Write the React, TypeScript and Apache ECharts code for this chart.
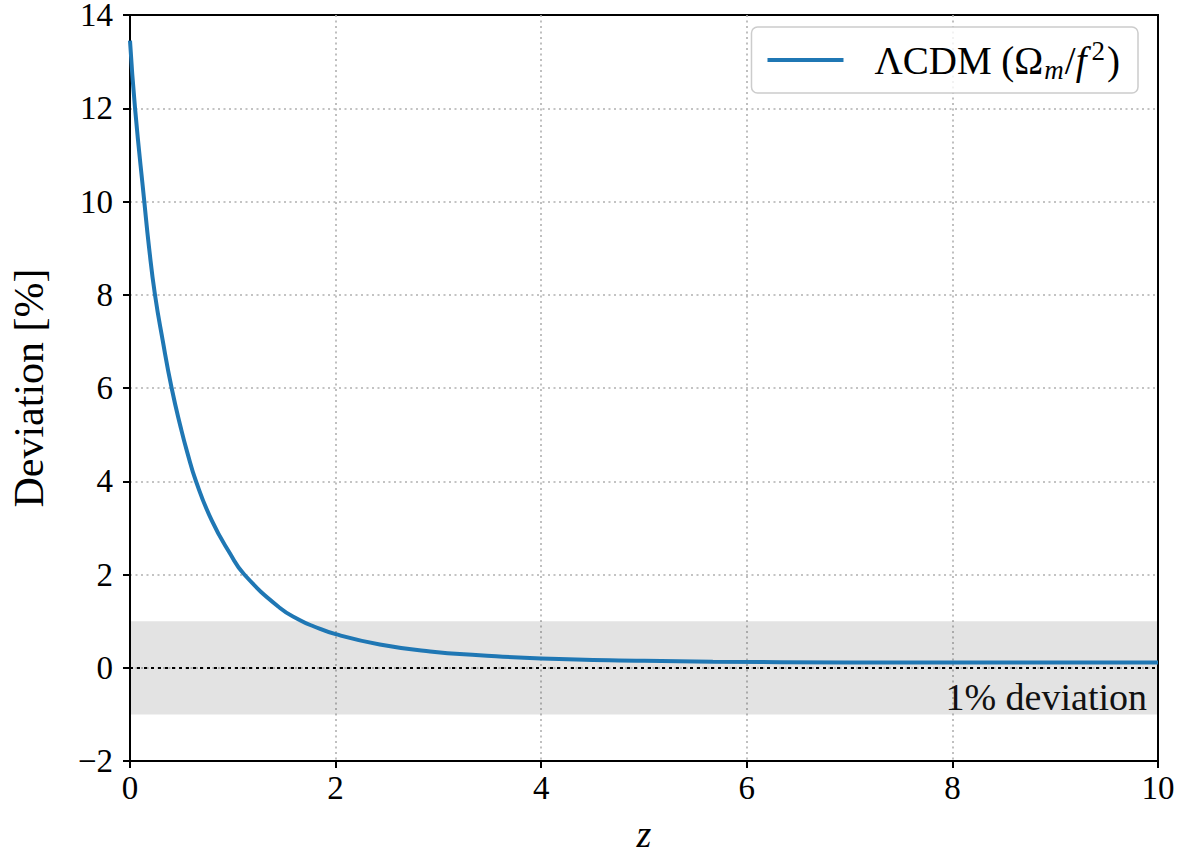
import React, { useEffect, useRef } from "react";
import * as echarts from "echarts";

// Redshift values
const zValues = [0, 0.049, 0.139, 0.185, 0.243, 0.318, 0.405, 0.496, 0.557, 0.642, 0.795, 0.973, 1.112, 1.459, 1.654, 1.784, 2.0, 2.43, 2.92, 3.4, 4.0, 5.0, 5.67, 7.0, 8.0, 9.0, 10.0];
// Deviation [%] at each z
const deviationValues = [13.45, 12, 10, 9.02, 8, 7.02, 6, 5.13, 4.62, 4, 3.16, 2.45, 2, 1.28, 1.02, 0.89, 0.72, 0.5, 0.35, 0.27, 0.2, 0.15, 0.13, 0.115, 0.11, 0.11, 0.11];
// 1% band
const bandLower = -1;
const bandUpper = 1;
const referenceLine = 0;
const xRange = [0, 10];
const yRange = [-2, 14];
const seriesName = "ΛCDM (Ωm/f²)";
const bandLabel = "1% deviation";

const FONT = "'Liberation Serif', 'DejaVu Serif', serif";

export default function App() {
  const ref = useRef<HTMLDivElement>(null);
  useEffect(() => {
    if (!ref.current) return;
    const chart = echarts.init(ref.current, undefined, { renderer: "svg" });
    const data = zValues.map((z, i) => [z, deviationValues[i]]);
    const splitStyle = { color: "#b0b0b0", width: 1.6, type: [2, 3.5] };
    chart.setOption({
      animation: false,
      backgroundColor: "#ffffff",
      grid: {
        left: 130,
        right: 29,
        top: 15,
        bottom: 95,
        outerBoundsMode: "none",
        containLabel: false,
        show: true,
        borderColor: "#000",
        borderWidth: 2,
        backgroundColor: "transparent",
      },
      legend: {
        right: 49,
        top: 27,
        padding: [10, 18, 10, 16],
        borderColor: "#cccccc",
        borderWidth: 1.5,
        borderRadius: 6,
        backgroundColor: "rgba(255,255,255,0.8)",
        icon: "rect",
        itemWidth: 76,
        itemHeight: 4,
        data: [seriesName],
        formatter: () => "{a|ΛCDM (Ω}{sub|m}{a|/}{it|f}{sup|2}{a|)}",
        textStyle: {
          fontFamily: FONT,
          color: "#000",
          padding: [0, 0, 0, 26],
          rich: {
            a: { fontFamily: FONT, fontSize: 39, color: "#000", lineHeight: 46 },
            it: { fontFamily: FONT, fontSize: 39, fontStyle: "italic", color: "#000", lineHeight: 46 },
            sub: { fontFamily: FONT, fontSize: 27, fontStyle: "italic", color: "#000", lineHeight: 26, verticalAlign: "bottom", padding: [0, 1, 0, 1] },
            sup: { fontFamily: FONT, fontSize: 27, color: "#000", lineHeight: 26, verticalAlign: "top", padding: [0, 2, 0, 5] },
          },
        },
      },
      xAxis: {
        type: "value",
        min: xRange[0],
        max: xRange[1],
        interval: 2,
        name: "z",
        nameLocation: "middle",
        nameGap: 58,
        nameTextStyle: { fontFamily: FONT, fontSize: 38, fontStyle: "italic", color: "#000", lineHeight: 30 },
        axisLine: { show: true, onZero: false, lineStyle: { color: "#000", width: 2 } },
        axisTick: { show: true, inside: false, length: 7, lineStyle: { color: "#000", width: 2 } },
        axisLabel: { fontFamily: FONT, fontSize: 33, color: "#000", margin: 13, lineHeight: 28 },
        splitLine: { show: true, showMinLine: false, showMaxLine: false, lineStyle: splitStyle },
      },
      yAxis: {
        type: "value",
        min: yRange[0],
        max: yRange[1],
        interval: 2,
        name: "Deviation [%]",
        nameLocation: "middle",
        nameGap: 80,
        nameTextStyle: { fontFamily: FONT, fontSize: 42, color: "#000" },
        axisLine: { show: true, onZero: false, lineStyle: { color: "#000", width: 2 } },
        axisTick: { show: true, inside: false, length: 7, lineStyle: { color: "#000", width: 2 } },
        axisLabel: {
          fontFamily: FONT,
          fontSize: 33,
          color: "#000",
          margin: 17,
          lineHeight: 26,
          formatter: (v: number) => (v < 0 ? "\u2212" + Math.abs(v) : String(v)),
        },
        splitLine: { show: true, showMinLine: false, showMaxLine: false, lineStyle: splitStyle },
      },
      series: [
        {
          name: seriesName,
          type: "line",
          data,
          symbol: "none",
          smooth: 0.5,
          lineStyle: { color: "#1f77b4", width: 4 },
          itemStyle: { color: "#1f77b4" },
          z: 5,
          markArea: {
            silent: true,
            itemStyle: { color: "rgba(0,0,0,0.11)" },
            label: { show: false },
            data: [[{ yAxis: bandLower }, { yAxis: bandUpper }]],
          },
          markLine: {
            silent: true,
            symbol: "none",
            label: { show: false },
            lineStyle: { color: "#000", width: 2.2, type: [3, 4] },
            data: [{ yAxis: referenceLine }],
          },
        },
      ],
    });
    const p = chart.convertToPixel({ gridIndex: 0 }, [xRange[1], bandLower]) as number[];
    chart.setOption({
      graphic: [
        {
          type: "text",
          x: p[0] - 11,
          y: p[1] + 2,
          z: 10,
          style: {
            text: bandLabel,
            fontFamily: FONT,
            fontSize: 38,
            fill: "#111",
            textAlign: "right",
            textVerticalAlign: "bottom",
          },
        },
      ],
    });
    return () => chart.dispose();
  }, []);
  return <div ref={ref} style={{ position: "fixed", left: 0, top: 0, width: 1187, height: 856 }} />;
}
